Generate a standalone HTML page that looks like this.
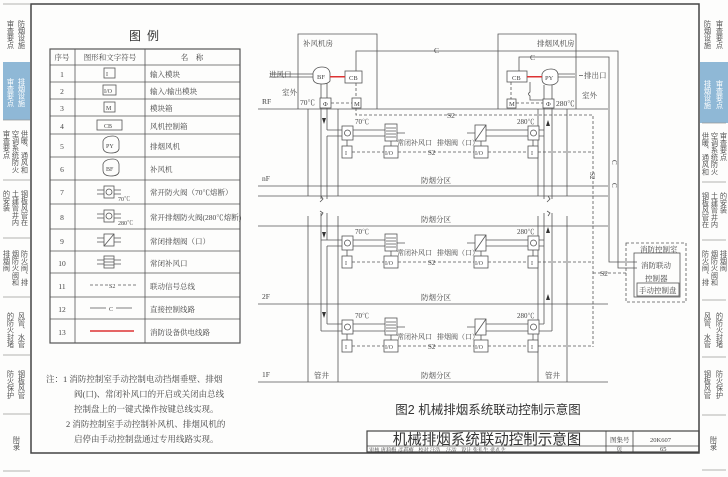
<!DOCTYPE html>
<html><head><meta charset="utf-8"><style>
body{margin:0;background:#fff;}
svg{display:block;font-family:"Liberation Sans","Noto Sans CJK SC",sans-serif;}
.t{font-family:"Liberation Serif","Noto Serif CJK SC",serif;fill:#444;}
</style></head><body>
<svg width="728" height="477" viewBox="0 0 728 477" xmlns="http://www.w3.org/2000/svg">
<rect width="728" height="477" fill="#fdfdfc"/>
<rect x="3" y="62" width="27" height="58" fill="#8fb8d6"/>
<rect x="700" y="62" width="28" height="61" fill="#8fb8d6"/>
<g stroke="#999" stroke-width="0.8">
<line x1="3" y1="4" x2="30" y2="4"/><line x1="3" y1="120" x2="30" y2="120"/><line x1="3" y1="180" x2="30" y2="180"/><line x1="3" y1="238" x2="30" y2="238"/><line x1="3" y1="297" x2="30" y2="297"/><line x1="3" y1="355" x2="30" y2="355"/><line x1="3" y1="414" x2="30" y2="414"/><line x1="3" y1="471" x2="30" y2="471"/>
<line x1="702" y1="123" x2="726" y2="123"/><line x1="702" y1="182" x2="726" y2="182"/><line x1="702" y1="240" x2="726" y2="240"/><line x1="702" y1="300" x2="726" y2="300"/><line x1="702" y1="357" x2="726" y2="357"/><line x1="702" y1="415" x2="726" y2="415"/><line x1="702" y1="470" x2="726" y2="470"/>
</g>
<g font-size="7.2" fill="#555" style="writing-mode:vertical-rl">
<text x="22" y="20">防烟设施</text><text x="11" y="20">审查要点</text>
<text x="22" y="78" fill="#fff">排烟设施</text><text x="11" y="78" fill="#fff">审查要点</text>
<text x="25" y="130">供暖、通风和</text><text x="16" y="130">空调系统防火</text><text x="7" y="130">审查要点</text>
<text x="25" y="190">钢板风管在</text><text x="16" y="190">土建管井内</text><text x="7" y="190">的安装</text>
<text x="25" y="250">防火阀、排</text><text x="16" y="250">烟防火阀和</text><text x="7" y="250">排烟阀</text>
<text x="22" y="312">风管、水管</text><text x="11" y="312">的防火封堵</text>
<text x="22" y="370">钢板风管</text><text x="11" y="370">防火保护</text>
<text x="17" y="436">附录</text>
<text x="720" y="20">审查要点</text><text x="708" y="20">防烟设施</text>
<text x="720" y="80" fill="#fff">审查要点</text><text x="708" y="80" fill="#fff">排烟设施</text>
<text x="724" y="132">审查要点</text><text x="715" y="132">空调系统防火</text><text x="706" y="132">供暖、通风和</text>
<text x="724" y="192">的安装</text><text x="715" y="192">土建管井内</text><text x="706" y="192">钢板风管在</text>
<text x="724" y="250">排烟阀</text><text x="715" y="250">烟防火阀和</text><text x="706" y="250">防火阀、排</text>
<text x="720" y="312">的防火封堵</text><text x="708" y="312">风管、水管</text>
<text x="720" y="370">防火保护</text><text x="708" y="370">钢板风管</text>
<text x="714" y="436">附录</text>
</g>
<rect x="31" y="4" width="668" height="449" fill="none" stroke="#444" stroke-width="1.5"/>
<text x="147" y="40" font-size="12" text-anchor="middle" fill="#333" letter-spacing="6">图例</text>
<g stroke="#555" stroke-width="0.8" fill="none">
<rect x="50" y="49" width="190" height="294" stroke-width="1.2"/>
<line x1="75" y1="49" x2="75" y2="343"/><line x1="145" y1="49" x2="145" y2="343"/>
<line x1="50" y1="65" x2="240" y2="65"/><line x1="50" y1="82" x2="240" y2="82"/><line x1="50" y1="99" x2="240" y2="99"/><line x1="50" y1="116" x2="240" y2="116"/><line x1="50" y1="134" x2="240" y2="134"/><line x1="50" y1="157" x2="240" y2="157"/><line x1="50" y1="180" x2="240" y2="180"/><line x1="50" y1="204" x2="240" y2="204"/><line x1="50" y1="229" x2="240" y2="229"/><line x1="50" y1="251" x2="240" y2="251"/><line x1="50" y1="273" x2="240" y2="273"/><line x1="50" y1="297" x2="240" y2="297"/><line x1="50" y1="319" x2="240" y2="319"/>
</g>
<g class="t" font-size="7.5">
<text x="62" y="60" text-anchor="middle">序号</text><text x="110" y="60" text-anchor="middle">图形和文字符号</text><text x="192" y="60" text-anchor="middle">名　称</text>
<g text-anchor="middle"><text x="62" y="77">1</text><text x="62" y="94">2</text><text x="62" y="111">3</text><text x="62" y="129">4</text><text x="62" y="149">5</text><text x="62" y="172">6</text><text x="62" y="195">7</text><text x="62" y="220">8</text><text x="62" y="244">9</text><text x="62" y="266">10</text><text x="62" y="289">11</text><text x="62" y="312">12</text><text x="62" y="335">13</text></g>
<text x="150" y="77">输入模块</text><text x="150" y="94">输入/输出模块</text><text x="150" y="111">模块箱</text><text x="150" y="129">风机控制箱</text><text x="150" y="149">排烟风机</text><text x="150" y="172">补风机</text><text x="150" y="195">常开防火阀（70℃熔断）</text><text x="150" y="220">常开排烟防火阀(280℃熔断)</text><text x="150" y="244">常闭排烟阀（口）</text><text x="150" y="266">常闭补风口</text><text x="150" y="289">联动信号总线</text><text x="150" y="312">直接控制线路</text><text x="150" y="335">消防设备供电线路</text>
</g>
<g stroke="#555" stroke-width="0.8" fill="none">
<rect x="104" y="68" width="11" height="10"/><rect x="103" y="85" width="13" height="10"/><rect x="104" y="102" width="11" height="10"/><rect x="97" y="120" width="25" height="10"/>
<path d="M103 141 q2 -5 10 -5 q5 0 6 5 v8 q-1 4 -8 4 q-8 0 -8 -6z"/><path d="M103 164 q2 -5 10 -5 q5 0 6 5 v8 q-1 4 -8 4 q-8 0 -8 -6z"/>
<rect x="104" y="186" width="10" height="12"/><circle cx="109" cy="192" r="3"/><path d="M97 190h7M97 194h7M114 190h7M114 194h7"/>
<rect x="104" y="210" width="10" height="12"/><circle cx="109" cy="216" r="3"/><path d="M97 214h7M97 218h7M114 214h7M114 218h7"/>
<rect x="104" y="234" width="10" height="12"/><path d="M104 246l10 -12M97 238h7M97 242h7M114 238h7M114 242h7"/>
<rect x="104" y="256" width="10" height="12"/><path d="M104 259h10M104 262h10M104 265h10M97 260h7M97 264h7M114 260h7M114 264h7"/>
<path d="M90 285h18M118 285h18" stroke-dasharray="3 2"/><path d="M90 308h16M116 308h16"/>
<line x1="90" y1="331" x2="134" y2="331" stroke="#d33" stroke-width="1.5"/>
</g>
<g class="t" font-size="6"><text x="106" y="76">I</text><text x="104" y="93">I/O</text><text x="106" y="110">M</text><text x="104" y="128">CB</text><text x="106" y="148">PY</text><text x="106" y="171">BF</text><text x="118" y="201">70℃</text><text x="118" y="225">280℃</text><text x="109" y="288">S2</text><text x="109" y="311">C</text></g>
<g class="t" font-size="8.5">
<text x="46" y="382">注：1 消防控制室手动控制电动挡烟垂壁、排烟</text>
<text x="74" y="397">阀(口)、常闭补风口的开启或关闭由总线</text>
<text x="74" y="412">控制盘上的一键式操作按键总线实现。</text>
<text x="66" y="427">2 消防控制室手动控制补风机、排烟风机的</text>
<text x="74" y="442">启停由手动控制盘通过专用线路实现。</text>
</g>
<g stroke="#555" stroke-width="0.8" fill="none">
<path d="M258 109H608M258 186H608M258 196H608M258 226H608M258 304H608M258 382H608"/>
<path d="M308 109V196M338 109V196M308 216V382M338 216V382M538 109V196M567 109V196M538 216V382M567 216V382"/>
<path d="M321 196l2 3l-3 3 M548 196l2 3l-3 3 M321 216l2 -3l-3 -2 M548 216l2 -3 l-3 -2"/>
<path d="M298 109V34H377V109M498 109V34H576V109"/>
<path d="M321 83V199M327 83V130M327 136V199M327 213V240M327 246V324M321 213V331M327 130H342M327 136H342M321 331H342M327 324H342M321 240H342M327 246H342"/>
<path d="M353 130H385M353 136H385M353 240H385M353 246H385M353 324H385M353 331H385"/>
<path d="M544 85V199M552 85V199M544 213V324M552 213V331M486 130H528M486 136H528M486 240H528M486 246H528M486 324H528M486 331H528"/>
<path d="M539 130H544M539 136H544M539 240H544M539 246H544M539 324H544M539 331H552"/>
</g>
<g fill="#333">
<path d="M322 118l2 6l2 -6z"/><path d="M322 232l2 6l2 -6z"/><path d="M322 312l2 6l2 -6z"/>
<path d="M546 126l2 -6l2 6z"/><path d="M546 233l2 -6l2 6z"/><path d="M546 300l2 -6l2 6z"/>
</g>
<g stroke="#555" stroke-width="0.8" fill="#fff">
<path d="M313 73 q2 -6 9 -6 q7 0 8 6 v8 q-2 3 -8 3 q-9 0 -9 -6z"/>
<rect x="345" y="71" width="17" height="12"/>
<rect x="320" y="98" width="11" height="10"/><rect x="352" y="98" width="9" height="10"/>
<rect x="507" y="71" width="20" height="11"/>
<path d="M542 74 q2 -5 9 -5 q6 0 7 5 v7 q-2 4 -8 4 q-8 0 -8 -6z"/>
<rect x="507" y="99" width="9" height="9"/><rect x="543" y="99" width="11" height="9"/>
</g>
<g stroke="#555" stroke-width="0.8" fill="none">
<path d="M270 74H313M270 77H313M558 74H575M558 77H575M583 75.5h-4"/>
<path d="M356 71V51H618V268H637M519 71V57H609V262H637"/>
<path d="M530 82v10q-3 2 0 4v4h13"/>
<path d="M331 103H352M356 83V98M511 82V99M516 103H543M356 108V115H593V347" stroke-dasharray="3 2"/>
<path d="M593 273H626" stroke-dasharray="3 2"/>
<rect x="626" y="243" width="60" height="59" stroke-dasharray="3 2"/>
<rect x="634" y="253" width="46" height="44"/><rect x="637" y="283" width="42" height="13"/>
</g>
<g fill="#d33"><rect x="330" y="76" width="15" height="1.5"/><rect x="527" y="76" width="15" height="1.5"/></g>
<g class="t" font-size="6.5">
<text x="317" y="79">BF</text><text x="349" y="80">CB</text><text x="323" y="106">Φ</text><text x="354" y="106">M</text>
<text x="512" y="80">CB</text><text x="545" y="80">PY</text><text x="509" y="106">M</text><text x="546" y="106">Φ</text>
</g>
<g class="t" font-size="7.5">
<text x="303" y="46">补风机房</text><text x="537" y="46">排烟风机房</text>
<text x="269" y="77">进风口</text><text x="584" y="78">排出口</text>
<text x="282" y="95">室外</text><text x="582" y="98">室外</text>
<text x="300" y="105">70℃</text><text x="556" y="106">280℃</text>
<text x="434" y="53">C</text><text x="530" y="60">C</text>
<text x="262" y="104">RF</text><text x="262" y="181">nF</text><text x="262" y="299">2F</text><text x="262" y="377">1F</text>
<text x="421" y="183">防烟分区</text><text x="421" y="222">防烟分区</text><text x="421" y="300">防烟分区</text><text x="421" y="378">防烟分区</text>
<text x="314" y="378">管井</text><text x="545" y="378">管井</text>
<text x="447" y="118">S2</text><text x="600" y="276">S2</text>
<text x="640" y="252">消防控制室</text><text x="641" y="268">消防联动</text><text x="645" y="281">控制器</text><text x="639" y="293">手动控制盘</text>
</g>
<text x="590" y="172" class="t" font-size="7" transform="rotate(90 590 172)">S2</text>
<text x="612" y="160" class="t" font-size="7" transform="rotate(90 612 160)">C</text>
<text x="612" y="183" class="t" font-size="7" transform="rotate(90 612 183)">C</text>
<g id="fl">
<g stroke="#555" stroke-width="0.8" fill="#fff">
<rect x="342" y="126" width="11" height="14"/><circle cx="347.5" cy="133" r="3" fill="none"/>
<rect x="385" y="124" width="12" height="17"/>
<rect x="475" y="125" width="11" height="16"/>
<rect x="528" y="126" width="11" height="14"/><circle cx="533.5" cy="133" r="3" fill="none"/>
<rect x="342" y="146" width="10" height="12"/><rect x="384" y="146" width="14" height="12"/><rect x="474" y="146" width="14" height="12"/><rect x="528" y="146" width="10" height="12"/>
</g>
<g stroke="#555" stroke-width="0.8" fill="none">
<path d="M386 128h10M386 131h10M386 134h10M386 137h10M475 141l11 -16M397 133h8M475 133h-8M347 140v6M533 140v6M391 141v5M481 141v5"/>
<path d="M352 152H384M398 152H474M488 152H528M538 152H593" stroke-dasharray="3 2"/>
</g>
<g class="t" font-size="7"><text x="355" y="124">70℃</text><text x="517" y="124">280℃</text><text x="397" y="145">常闭补风口</text><text x="437" y="145">排烟阀（口）</text><text x="428" y="155">S2</text></g>
<g class="t" font-size="6"><text x="345" y="155">I</text><text x="385" y="155">I/O</text><text x="475" y="155">I/O</text><text x="531" y="155">I</text></g>
</g>
<use href="#fl" transform="translate(0,110)"/>
<use href="#fl" transform="translate(0,194)"/>
<text x="488" y="414" font-size="12.5" text-anchor="middle" fill="#333">图2 机械排烟系统联动控制示意图</text>
<g stroke="#444" fill="none" stroke-width="0.8">
<rect x="367" y="431" width="332" height="21" stroke-width="1.2"/>
<line x1="367" y1="446" x2="699" y2="446"/><line x1="606" y1="431" x2="606" y2="452"/><line x1="633" y1="431" x2="633" y2="452"/>
</g>
<text x="487" y="444.5" font-size="14.5" text-anchor="middle" fill="#333">机械排烟系统联动控制示意图</text>
<g class="t" font-size="6.5"><text x="610" y="442">图集号</text><text x="650" y="442">20K607</text><text x="616" y="451">页</text><text x="660" y="451">65</text></g>
<text x="369" y="451.3" class="t" font-size="5.2">审核 唐莉梅 <tspan font-style="italic">彦莉梅</tspan>　校对 汪浩　<tspan font-style="italic">汪浩</tspan>　设计 张礼生 <tspan font-style="italic">张礼生</tspan></text>
</svg>
</body></html>
